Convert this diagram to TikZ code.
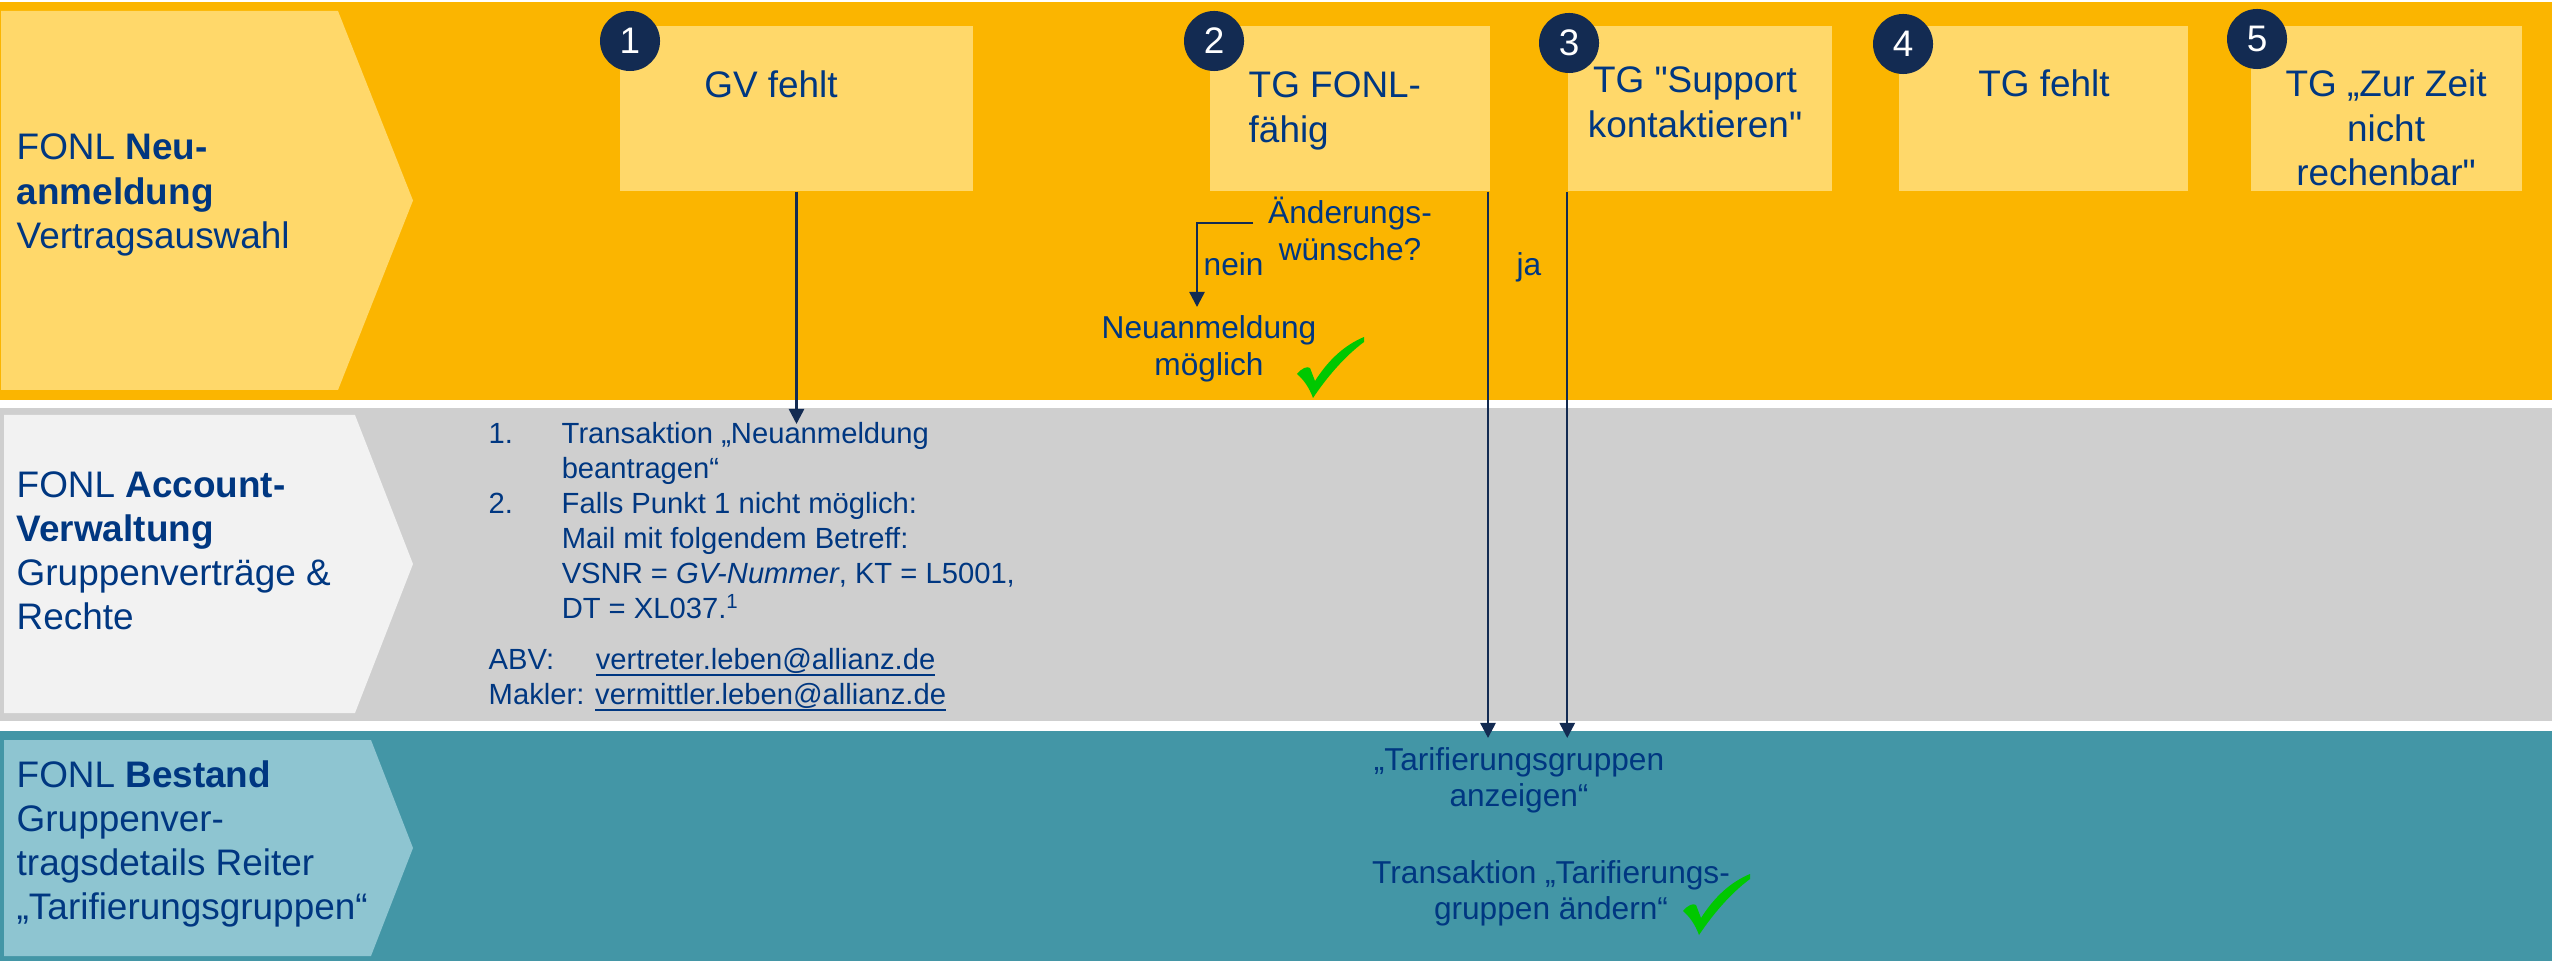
\documentclass[tikz,border=0pt]{standalone}
\usepackage{fontspec}
\setmainfont{Liberation Sans}[Ligatures=TeXOff]
\usetikzlibrary{arrows.meta}
\definecolor{bandorange}{HTML}{FBB500}
\definecolor{paleyellow}{HTML}{FFD86A}
\definecolor{bandgray}{HTML}{CFCFCF}
\definecolor{palegray}{HTML}{F2F2F2}
\definecolor{bandteal}{HTML}{4396A6}
\definecolor{paleteal}{HTML}{8EC5D1}
\definecolor{txtblue}{HTML}{003781}
\definecolor{navy}{HTML}{132B52}
\definecolor{checkgreen}{HTML}{00C800}
\newcommand\linesc[1]{\vtop{\halign{\hfil##\hfil\cr#1\crcr}}}
\newcommand\linesl[1]{\vtop{\halign{##\hfil\cr#1\crcr}}}
\newcommand\ulink[1]{\setbox0\hbox{#1}\leavevmode\rlap{\rule[-2.1pt]{\wd0}{0.55pt}}\box0}
\newcommand\graylist{\vtop{\halign{\hbox to 0.73cm{##\hfil}&##\hfil\cr
1.&Transaktion „Neuanmeldung\cr
&beantragen“\cr
2.&Falls Punkt 1 nicht möglich:\cr
&Mail mit folgendem Betreff:\cr
&VSNR = \textit{GV-Nummer}, KT = L5001,\cr
&DT = XL037.\textsuperscript{1}\cr}}}
\newcommand\maillist{\vtop{\halign{##\hfil\cr
\hbox to 1.07cm{ABV:\hfil}\ulink{vertreter.leben@allianz.de}\cr
Makler: \ulink{vermittler.leben@allianz.de}\cr}}}
\newcommand\chk[1]{\fill[checkgreen, shift={#1}] (0,37) .. controls (5,31) and (10,29) .. (13,31) -- (18,44) .. controls (32,22) and (48,8) .. (67,0) -- (67,5) .. controls (48,19) and (30,40) .. (16,61) .. controls (12,50) and (6,42) .. (0,37) -- cycle;}
\begin{document}
\begin{tikzpicture}[x=0.01cm,y=-0.01cm,
  box/.style={rectangle, fill=paleyellow, draw=none, inner sep=0, minimum height=1.65cm},
  num/.style={circle, fill=navy, minimum size=0.6cm, inner sep=0, text=white, font=\fontsize{10.5}{12}\selectfont},
  lbl/.style={inner sep=0, text=txtblue, font=\fontsize{10.5}{12.6}\selectfont},
  mid/.style={inner sep=0, text=txtblue, font=\fontsize{9}{10.5}\selectfont},
  small/.style={inner sep=0, text=txtblue, font=\fontsize{8.3}{9.96}\selectfont},
  arr/.style={draw=navy, line width=0.7pt, -{Triangle[length=0.15cm,width=0.15cm]}}]
\useasboundingbox (0,0) rectangle (2552,961);
\fill[white] (0,0) rectangle (2552,961);
% bands
\fill[bandorange] (0,2) rectangle (2552,400);
\fill[bandgray] (0,408) rectangle (2552,721);
\fill[bandteal] (0,731) rectangle (2552,961);
% chevrons
\fill[paleyellow] (1,11) -- (338,11) -- (413,200.5) -- (338,390) -- (1,390) -- cycle;
\fill[palegray] (4,415) -- (355,415) -- (413,564) -- (355,713) -- (4,713) -- cycle;
\fill[paleteal] (4,740) -- (371,740) -- (413,848) -- (371,956) -- (4,956) -- cycle;
% chevron labels
\node[lbl, anchor=base west] (lab1) at (16,160) {\linesl{FONL \textbf{Neu-}\cr \textbf{anmeldung}\cr Vertragsauswahl}};
\node[lbl, anchor=base west] (lab2) at (16,497) {\linesl{FONL \textbf{Account-}\cr \textbf{Verwaltung}\cr Gruppenverträge \&\cr Rechte}};
\node[lbl, anchor=base west] (lab3) at (16,787) {\linesl{FONL \textbf{Bestand}\cr Gruppenver-\cr tragsdetails Reiter\cr „Tarifierungsgruppen“}};
% boxes
\node[box, minimum width=3.53cm] (box1) at (796.5,108.5) {};
\node[box, minimum width=2.80cm] (box2) at (1350,108.5) {};
\node[box, minimum width=2.64cm] (box3) at (1700,108.5) {};
\node[box, minimum width=2.89cm] (box4) at (2043.5,108.5) {};
\node[box, minimum width=2.71cm] (box5) at (2386.5,108.5) {};
% box texts
\node[lbl, anchor=base] (bt1) at (771,98) {GV fehlt};
\node[lbl, anchor=base west] (bt2) at (1248,98) {\linesl{TG FONL-\cr fähig}};
\node[lbl, anchor=base] (bt3) at (1695,93) {\linesc{TG "Support\cr kontaktieren"}};
\node[lbl, anchor=base] (bt4) at (2044,97) {TG fehlt};
\node[lbl, anchor=base] (bt5) at (2386,97) {\linesc{TG „Zur Zeit\cr nicht\cr rechenbar"}};
% number circles
\node[num] (n1) at (630,41) {1};
\node[num] (n2) at (1214,41) {2};
\node[num] (n3) at (1569,43) {3};
\node[num] (n4) at (1903,44) {4};
\node[num] (n5) at (2257,39) {5};
% decision texts
\node[mid, anchor=base] (aw) at (1350,224) {\linesc{Änderungs-\cr wünsche?}};
\node[mid, anchor=base west] (nein) at (1203,276) {nein};
\node[mid, anchor=base] (ja) at (1529,276) {ja};
\node[mid, anchor=base] (neu) at (1209,339) {\linesc{Neuanmeldung\cr möglich}};
% gray band texts
\node[small, anchor=base west] (glist) at (488,443) {\graylist};
\node[small, anchor=base west] (gmail) at (488,669) {\maillist};
% teal band texts
\node[mid, anchor=base] (tg1) at (1519,770) {\linesc{„Tarifierungsgruppen\cr anzeigen“}};
\node[mid, anchor=base] (tg2) at (1551,883) {\linesc{Transaktion „Tarifierungs-\cr gruppen ändern“}};
% connectors
\coordinate (a1) at (797,424);
\coordinate (a2) at (1488,738);
\coordinate (a3) at (1568,738);
\coordinate (q1) at (1253,223);
\coordinate (q2) at (1197,307);
\draw[arr] (box1.south) -- (box1.south |- a1);
\draw[arr] (box2.south east -| a2) -- (a2);
\draw[arr] (box3.south west) -- (box3.south west |- a3);
\draw[arr] (q1) -| (q2);
% check marks
\chk{(1297,337)}
\chk{(1683,874)}
\end{tikzpicture}
\end{document}
